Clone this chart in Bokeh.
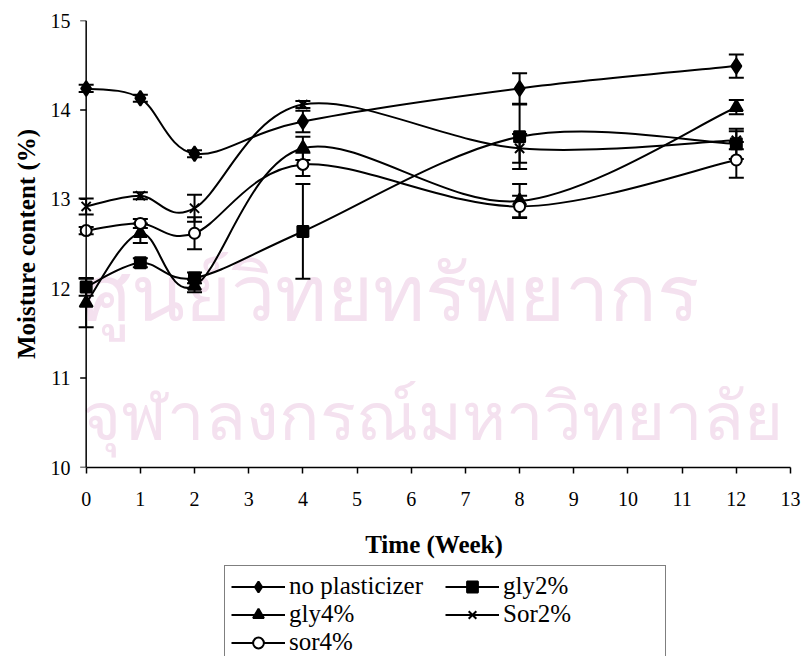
from bokeh.plotting import figure
from bokeh.layouts import column
from bokeh.models import (ColumnDataSource, Whisker, TeeHead, Legend, LegendItem,
                          FixedTicker, Range1d, Label, Span)
from bokeh.embed import file_html
from bokeh.resources import INLINE
import math

# ---------------- data ----------------
weeks = [0, 1, 2, 4, 8, 12]

no_plasticizer = [14.24, 14.13, 13.51, 13.87, 14.24, 14.49]
no_plasticizer_err = [0.04, 0.04, 0.04, 0.12, 0.17, 0.13]

gly2 = [12.02, 12.29, 12.12, 12.64, 13.70, 13.62]
gly2_err = [0.10, 0.05, 0.06, 0.53, 0.36, 0.17]

gly4 = [11.84, 12.62, 12.03, 13.57, 12.98, 14.03]
gly4_err = [0.27, 0.11, 0.07, 0.13, 0.19, 0.08]

sor2 = [12.92, 13.04, 12.90, 14.06, 13.57, 13.66]
sor2_err = [0.09, 0.04, 0.15, 0.04, 0.16, 0.10]

sor4 = [12.65, 12.73, 12.62, 13.39, 12.92, 13.44]
sor4_err = [0.04, 0.05, 0.18, 0.13, 0.12, 0.20]

series_names = ["no plasticizer", "gly2%", "gly4%", "Sor2%", "sor4%"]
x_ticks = list(range(0, 14))
y_ticks = [10, 11, 12, 13, 14, 15]
x_title = "Time (Week)"
y_title = "Moisture content (%)"
watermark_lines = ["ศูนย์วิทยทรัพยากร", "จุฬาลงกรณ์มหาวิทยาลัย"]

SERIF = "Liberation Serif"


def smooth_segments(xs, ys, t=1.0 / 6.0):
    """Bezier control points (Excel-style smoothed line) for each segment."""
    n = len(xs)
    d = dict(x0=[], y0=[], x1=[], y1=[], cx0=[], cy0=[], cx1=[], cy1=[])
    for i in range(n - 1):
        xp, yp = (xs[i - 1], ys[i - 1]) if i > 0 else (xs[i], ys[i])
        xn, yn = (xs[i + 2], ys[i + 2]) if i + 2 < n else (xs[i + 1], ys[i + 1])
        d["x0"].append(xs[i]); d["y0"].append(ys[i])
        d["x1"].append(xs[i + 1]); d["y1"].append(ys[i + 1])
        d["cx0"].append(xs[i] + (xs[i + 1] - xp) * t)
        d["cy0"].append(ys[i] + (ys[i + 1] - yp) * t)
        d["cx1"].append(xs[i + 1] - (xn - xs[i]) * t)
        d["cy1"].append(ys[i + 1] - (yn - ys[i]) * t)
    return ColumnDataSource(d)


def style_axis(ax):
    ax.axis_line_width = 1.5
    ax.axis_line_color = "black"
    ax.major_tick_line_width = 1.5
    ax.major_tick_line_color = "black"
    ax.major_tick_out = 6
    ax.major_tick_in = 0
    ax.minor_tick_out = 0
    ax.minor_tick_in = 0
    ax.major_label_text_font = SERIF
    ax.major_label_text_font_size = "20px"
    ax.major_label_text_color = "black"
    ax.axis_label_text_font = SERIF
    ax.axis_label_text_font_style = "bold"
    ax.axis_label_text_font_size = "25px"
    ax.axis_label_text_color = "black"


# ---------------- main chart ----------------
p = figure(width=805, height=565,
           x_range=Range1d(-0.16, 13), y_range=Range1d(10, 15),
           output_backend="svg", toolbar_location=None,
           min_border_left=77, min_border_right=15,
           min_border_top=20, min_border_bottom=98)
p.outline_line_color = None
p.grid.visible = False
p.background_fill_color = "white"
p.border_fill_color = "white"

# watermark (faint library stamp text behind the chart)
p.add_layout(Label(x=5.61, y=11.98, text=watermark_lines[0], text_align="center",
                   text_baseline="alphabetic", text_font_size="79px",
                   text_color="#f4e1ef", level="underlay", text_font="Noto Sans"))
p.add_layout(Label(x=6.4, y=10.6, text=watermark_lines[1], text_align="center",
                   text_baseline="alphabetic", text_font_size="67px",
                   text_color="#f4e1ef", level="underlay", text_font="Noto Sans"))

# x axis
p.xaxis.ticker = FixedTicker(ticks=x_ticks)
p.xaxis.bounds = (0, 13)
p.xaxis.axis_label = x_title
style_axis(p.xaxis[0])
p.xaxis.major_label_standoff = 18
p.xaxis.axis_label_standoff = 22

# y axis: labels + title at the frame edge; axis line + ticks drawn at week 0
yl = p.yaxis[0]
yl.ticker = FixedTicker(ticks=y_ticks)
yl.axis_label = y_title
style_axis(yl)
yl.axis_line_color = None
yl.major_tick_line_color = None
yl.major_tick_out = 0
yl.major_label_standoff = 7
yl.axis_label_standoff = 8

p.add_layout(Span(location=x_ticks[0], dimension="height", line_color="black",
                  line_width=1.5))
p.ray(x=[x_ticks[0]] * len(y_ticks), y=y_ticks, length=6, length_units="screen",
      angle=math.pi, line_color="black", line_width=1.5)

series = [
    (no_plasticizer, no_plasticizer_err, dict(marker="diamond", size=15, fill_color="black")),
    (gly2, gly2_err, dict(marker="square", size=11, fill_color="black")),
    (gly4, gly4_err, dict(marker="triangle", size=13, fill_color="black")),
    (sor2, sor2_err, dict(marker="x", size=13, fill_color="black")),
    (sor4, sor4_err, dict(marker="circle", size=11, fill_color="white")),
]

for vals, errs, mk in series:
    err_src = ColumnDataSource(dict(x=weeks,
                                    upper=[v + e for v, e in zip(vals, errs)],
                                    lower=[v - e for v, e in zip(vals, errs)]))
    p.add_layout(Whisker(source=err_src, base="x", upper="upper", lower="lower",
                         line_color="black", line_width=2,
                         upper_head=TeeHead(size=15, line_width=2, line_color="black"),
                         lower_head=TeeHead(size=15, line_width=2, line_color="black")))
    seg = smooth_segments(weeks, vals)
    p.bezier(x0="x0", y0="y0", x1="x1", y1="y1", cx0="cx0", cy0="cy0",
             cx1="cx1", cy1="cy1", source=seg, line_color="black", line_width=2)
    p.scatter(weeks, vals, line_color="black", line_width=2, **mk)

# ---------------- legend (own strip below the chart) ----------------
lg = figure(width=805, height=91, x_range=Range1d(100, 101), y_range=Range1d(100, 101),
            output_backend="svg", toolbar_location=None,
            x_axis_type=None, y_axis_type=None,
            min_border=0, min_border_left=0, min_border_right=0,
            min_border_top=0, min_border_bottom=0)
lg.outline_line_color = None
lg.grid.visible = False
lg.background_fill_color = "white"
lg.border_fill_color = "white"

items = []
for name, (vals, errs, mk) in zip(series_names, series):
    # proxies carrying the series (outside this strip's view) so the legend can draw them
    r_line = lg.line(x=weeks, y=vals, line_color="black", line_width=2)
    r_pts = lg.scatter(x=weeks, y=vals, line_color="black", line_width=2, **mk)
    items.append(LegendItem(label=name, renderers=[r_line, r_pts]))

# the strip's frame is aligned with the chart's frame (left edge at 77 px);
# like the reference, the box runs on past the bottom edge of the page
legend = Legend(items=items, orientation="horizontal", ncols=2,
                location=(147, -7),
                label_text_font=SERIF, label_text_font_size="25px",
                label_text_color="black", glyph_width=54, glyph_height=27,
                label_standoff=4, label_width=156, label_height=27, spacing=0,
                padding=6, margin=0, border_line_color="black",
                border_line_width=1.5, background_fill_color="white",
                background_fill_alpha=1.0)
lg.add_layout(legend, "center")

layout = column(p, lg, spacing=0)
open("out.html", "w").write(file_html(layout, INLINE))
